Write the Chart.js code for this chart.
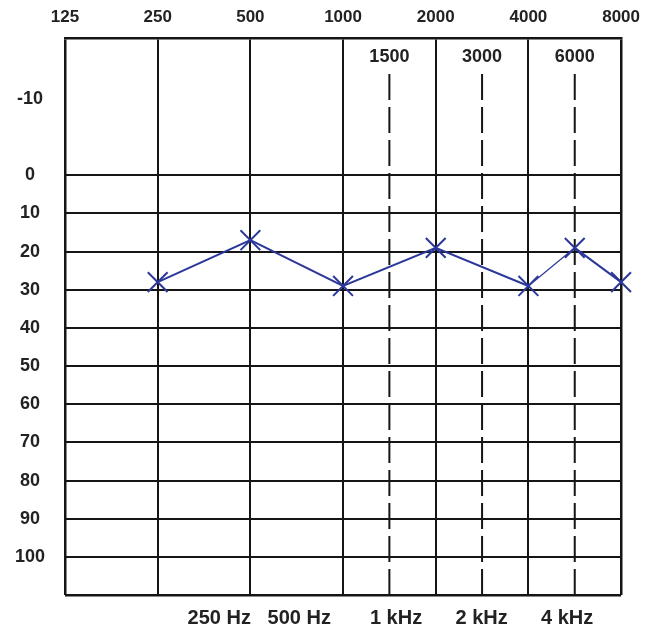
<!DOCTYPE html>
<html>
<head>
<meta charset="utf-8">
<title>Audiogram</title>
<script src="https://cdn.jsdelivr.net/npm/chart.js@4/dist/chart.umd.min.js"></script>
<style>
  html, body { margin:0; padding:0; background:#fff }
  #wrap { width:650px; height:636px; position:relative }
</style>
</head>
<body>
<div id="wrap"><canvas id="audiogram"></canvas></div>
<script>
// measured thresholds (dB HL) per test frequency
const freqs = [250, 500, 1000, 2000, 4000, 6000, 8000]
const thresholds = [28, 17, 29, 19, 29, 19, 28]

// axis labels
const octaveFreqs = [125, 250, 500, 1000, 2000, 4000, 8000]
const midFreqs = [1500, 3000, 6000]
const dbTicks = [-20, 0, 10, 20, 30, 40, 50, 60, 70, 80, 90, 100, 110]
const dbLabels = ['-10', '0', '10', '20', '30', '40', '50', '60', '70', '80', '90', '100', '']
const bottomCaption = '250 Hz   500 Hz       1 kHz      2 kHz      4 kHz     '

const INK = '#151515'
const PEN = '#2b389a'
const FONT = '"Liberation Sans", Arial, sans-serif'

// audiogram layout: octaves evenly spaced, mid-octave lines halfway
function freqPos(f) { return Math.round(2 * Math.log2(f / 125)) / 2 }

const halfOctaveLines = {
  id: 'halfOctaveLines',
  beforeDatasetsDraw(chart) {
    const {ctx, chartArea, scales: {x}} = chart
    ctx.save()
    ctx.strokeStyle = INK
    ctx.lineWidth = 2
    ctx.setLineDash([26, 7])
    ctx.font = 'bold 18px ' + FONT
    ctx.fillStyle = '#222'
    ctx.textAlign = 'center'
    ctx.textBaseline = 'middle'
    midFreqs.forEach(f => {
      const px = x.getPixelForValue(freqPos(f))
      ctx.fillText(String(f), px, chartArea.top + 19)
      ctx.beginPath()
      ctx.moveTo(px, chartArea.top + 36)
      ctx.lineTo(px, chartArea.bottom)
      ctx.stroke()
    })
    ctx.restore()
  }
}

let chart

function initChart() {
  const el = document.getElementById('audiogram')
  if (!el) { console.error('canvas not found'); return }

  chart = new Chart(el, {
    type: 'line',
    data: {
      datasets: [{
        label: 'Threshold',
        data: freqs.map((f, i) => ({x: freqPos(f), y: thresholds[i]})),
        borderColor: PEN,
        backgroundColor: PEN,
        borderWidth: 2,
        pointStyle: 'crossRot',
        pointRadius: 14,
        pointBorderWidth: 2,
        pointBorderColor: PEN,
        tension: 0,
        clip: false,
        segment: { borderWidth: c => c.p0DataIndex === 4 ? 1.2 : 2 }
      }]
    },
    options: {
      responsive: true,
      maintainAspectRatio: false,
      animation: false,
      layout: { padding: { left: 0, right: 28, top: 0, bottom: 0 } },
      plugins: { legend: { display: false }, tooltip: { enabled: false } },
      scales: {
        x: {
          type: 'linear', position: 'top', min: 0, max: 6,
          afterBuildTicks: a => { a.ticks = octaveFreqs.map(f => ({value: freqPos(f)})) },
          afterFit: a => { a.height = 38 },
          ticks: {
            autoSkip: false, maxRotation: 0, padding: 10, color: '#222',
            font: { family: FONT, size: 17, weight: 'bold' },
            callback: (v, i) => String(octaveFreqs[i])
          },
          grid: { color: INK, lineWidth: c => (c.index === 0 || c.index === octaveFreqs.length - 1) ? 2.5 : 2, drawTicks: false },
          border: { display: true, color: INK, width: 2.5 }
        },
        xCaption: {
          type: 'linear', position: 'bottom', min: 0, max: 6,
          afterFit: a => { a.height = 41 },
          ticks: { display: false },
          grid: { display: false, drawTicks: false },
          border: { display: false },
          title: {
            display: true, text: bottomCaption, align: 'end', color: '#222',
            font: { family: FONT, size: 20, weight: 'bold' },
            padding: { top: 0, bottom: 6 }
          }
        },
        y: {
          type: 'linear', reverse: true, min: -36, max: 110,
          afterBuildTicks: a => { a.ticks = dbTicks.map(v => ({value: v})) },
          afterFit: a => { a.width = 65 },
          ticks: {
            autoSkip: false, padding: 20, crossAlign: 'center', color: '#222',
            font: { family: FONT, size: 18, weight: 'bold' },
            callback: v => dbLabels[dbTicks.indexOf(v)]
          },
          grid: {
            drawTicks: false,
            color: c => c.tick && c.tick.value < 0 ? 'rgba(0,0,0,0)' : INK,
            lineWidth: c => c.tick && c.tick.value === 110 ? 2.5 : 2
          },
          border: { display: false }
        }
      }
    },
    plugins: [halfOctaveLines]
  })
}

document.addEventListener('DOMContentLoaded', initChart)
</script>
</body>
</html>
